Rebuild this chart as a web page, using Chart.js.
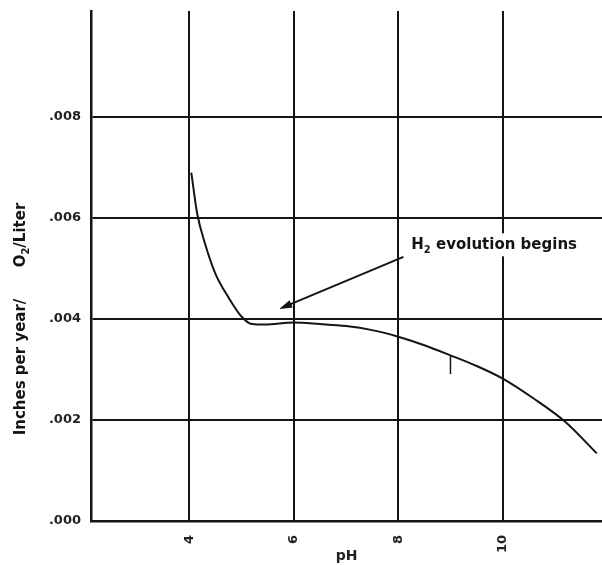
<!DOCTYPE html>
<html>
<head>
<meta charset="utf-8">
<title>Corrosion rate vs pH</title>
<script src="https://cdn.jsdelivr.net/npm/chart.js@4.4.1/dist/chart.umd.min.js"></script>
<style>
  body { margin: 0; background: #fff; }
  canvas { display: block; }
</style>
</head>
<body>
<canvas id="phChart" width="602" height="565"></canvas>
<script>
  // curve
  const phValues = [4.04, 4.15, 4.3, 4.5, 4.75, 5.0, 5.2, 5.45, 6.0, 6.5, 7.0, 7.5, 8.0, 8.5, 9.0, 9.5, 10.0, 10.6, 11.2, 11.8];
  const rateValues = [0.0069, 0.0061, 0.0055, 0.0049, 0.00443, 0.00405, 0.0039, 0.00389, 0.00393, 0.0039, 0.00386, 0.00378, 0.00365, 0.00348, 0.00328, 0.00307, 0.00282, 0.00242, 0.00196, 0.00134];

  const xTicks = [4, 6, 8, 10];
  const yTicks = [0, 0.002, 0.004, 0.006, 0.008];

  // note on the plot: arrow tail/tip and text spot, in data units
  const notePoint = { ph: 8.25, rate: 0.00538 };
  const arrowTail = { ph: 8.1, rate: 0.00523 };
  const arrowTip = { ph: 5.72, rate: 0.0042 };
  const smallMark = { ph: 9.0, from: 0.00327, to: 0.00291 };

  const ink = '#141414';
  const fontName = "'DejaVu Sans', 'Liberation Sans', sans-serif";

  // draw a row of text pieces, some of them subscript
  function drawPieces(ctx, parts, startX, baseY) {
    let px = startX;
    parts.forEach(p => {
      ctx.font = p.sub ? `bold 10px ${fontName}` : `bold 15px ${fontName}`;
      ctx.fillText(p.t, px, p.sub ? baseY + 4 : baseY);
      px += ctx.measureText(p.t).width;
    });
    return px - startX;
  }

  function piecesWidth(ctx, parts) {
    let w = 0;
    parts.forEach(p => {
      ctx.font = p.sub ? `bold 10px ${fontName}` : `bold 15px ${fontName}`;
      w += ctx.measureText(p.t).width;
    });
    return w;
  }

  const notesPlugin = {
    id: 'notes',
    afterDraw(chart) {
      const ctx = chart.ctx;
      const xs = chart.scales.x;
      const ys = chart.scales.y;
      ctx.save();
      ctx.fillStyle = ink;
      ctx.strokeStyle = ink;
      ctx.textBaseline = 'alphabetic';
      ctx.textAlign = 'left';

      // y axis title, rotated
      const titleParts = [
        { t: 'Inches per year/' }, { t: '      ' }, { t: 'O' }, { t: '2', sub: true }, { t: '/Liter' }
      ];
      const tw = piecesWidth(ctx, titleParts);
      ctx.save();
      ctx.translate(25, ys.getPixelForValue(0.004));
      ctx.rotate(-Math.PI / 2);
      drawPieces(ctx, titleParts, -tw / 2, 0);
      ctx.restore();

      // H2 note with white box under it
      const noteParts = [{ t: 'H' }, { t: '2', sub: true }, { t: ' evolution begins' }];
      const nx = xs.getPixelForValue(notePoint.ph);
      const ny = ys.getPixelForValue(notePoint.rate);
      const nw = piecesWidth(ctx, noteParts);
      ctx.fillStyle = '#fff';
      ctx.fillRect(nx - 4, ny - 16, nw + 8, 23);
      ctx.fillStyle = ink;
      drawPieces(ctx, noteParts, nx, ny);

      // arrow
      const ax = xs.getPixelForValue(arrowTail.ph);
      const ay = ys.getPixelForValue(arrowTail.rate);
      const bx = xs.getPixelForValue(arrowTip.ph);
      const by = ys.getPixelForValue(arrowTip.rate);
      const ang = Math.atan2(by - ay, bx - ax);
      ctx.lineWidth = 2;
      ctx.beginPath();
      ctx.moveTo(ax, ay);
      ctx.lineTo(bx - 8 * Math.cos(ang), by - 8 * Math.sin(ang));
      ctx.stroke();
      ctx.beginPath();
      ctx.moveTo(bx, by);
      ctx.lineTo(bx - 13 * Math.cos(ang) + 4 * Math.sin(ang), by - 13 * Math.sin(ang) - 4 * Math.cos(ang));
      ctx.lineTo(bx - 13 * Math.cos(ang) - 4 * Math.sin(ang), by - 13 * Math.sin(ang) + 4 * Math.cos(ang));
      ctx.closePath();
      ctx.fill();

      // little tick under the curve
      const mx = xs.getPixelForValue(smallMark.ph);
      ctx.lineWidth = 1.5;
      ctx.beginPath();
      ctx.moveTo(mx, ys.getPixelForValue(smallMark.from));
      ctx.lineTo(mx, ys.getPixelForValue(smallMark.to));
      ctx.stroke();

      ctx.restore();
    }
  };

  new Chart(document.getElementById('phChart'), {
    type: 'line',
    data: {
      datasets: [{
        data: phValues.map((ph, i) => ({ x: ph, y: rateValues[i] })),
        borderColor: ink,
        borderWidth: 2,
        pointRadius: 0,
        fill: false,
        cubicInterpolationMode: 'monotone'
      }]
    },
    options: {
      responsive: false,
      animation: false,
      layout: { padding: { top: 11, left: 0, right: 0, bottom: 0 } },
      plugins: {
        legend: { display: false },
        tooltip: { enabled: false }
      },
      scales: {
        x: {
          type: 'linear',
          min: 2.12,
          max: 11.9,
          afterBuildTicks: s => { s.ticks = xTicks.map(v => ({ value: v })); },
          afterFit: s => { s.height = 44; },
          grid: { color: ink, lineWidth: 2, drawTicks: false },
          border: { display: true, color: ink, width: 2.5 },
          ticks: {
            minRotation: 90,
            maxRotation: 90,
            padding: 14,
            color: '#222',
            font: { family: fontName, size: 13, weight: 'bold' },
            callback: v => String(v)
          },
          title: {
            display: true,
            text: 'pH',
            color: '#222',
            padding: { top: 0, bottom: 0 },
            font: { family: fontName, size: 14, weight: 'bold' }
          }
        },
        y: {
          min: 0,
          max: 0.0101,
          afterBuildTicks: s => { s.ticks = yTicks.map(v => ({ value: v })); },
          // no extra room for the tick labels above and below
          afterFit: s => { s.width = 91; s.paddingTop = 0; s.paddingBottom = 0; },
          grid: { color: ink, lineWidth: 2, drawTicks: false },
          border: { display: true, color: ink, width: 2.5 },
          ticks: {
            padding: 10,
            color: '#222',
            font: { family: fontName, size: 13, weight: 'bold' },
            callback: v => v.toFixed(3).replace(/^0/, '')
          }
        }
      }
    },
    plugins: [notesPlugin]
  });
</script>
</body>
</html>
